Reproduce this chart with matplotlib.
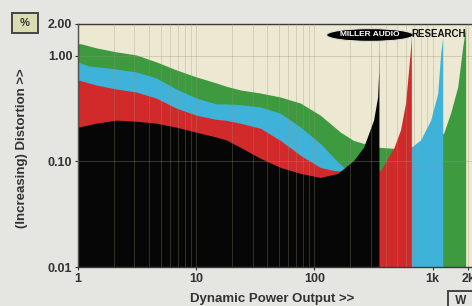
import matplotlib
matplotlib.use('Agg')
import matplotlib.pyplot as plt

# distortion curves: power (W) and THD (%)
power_green = [1, 1.06, 1.42, 2.1, 3.1, 4.58, 6.77, 10, 14.8, 17.9, 23.6, 34.9, 51.5, 76.1, 112, 166, 214, 260,
               349, 468, 791, 1239, 1421, 1629, 1795, 1867, 1900]
thd_green = [1.30, 1.30, 1.19, 1.09, 1.02, 0.877, 0.736, 0.631, 0.553, 0.515, 0.475, 0.444, 0.407, 0.357, 0.274,
             0.189, 0.158, 0.148, 0.136, 0.133, 0.14, 0.185, 0.29, 0.51, 1.22, 1.65, 2.0]

power_cyan = [1, 1.06, 1.24, 1.83, 3.1, 4.58, 6.77, 10, 14.8, 17.9, 23.6, 34.9, 51.5, 76.1, 112, 145, 176, 220,
              280, 362, 468, 651, 791, 961, 1102, 1170, 1216]
thd_cyan = [0.88, 0.85, 0.80, 0.765, 0.704, 0.617, 0.485, 0.398, 0.35, 0.35, 0.345, 0.327, 0.286, 0.211, 0.148,
            0.109, 0.088, 0.085, 0.082, 0.08, 0.10, 0.135, 0.16, 0.246, 0.44, 1.07, 1.5]

power_red = [1, 1.42, 2.1, 3.1, 4.58, 6.77, 10, 14.8, 17.9, 23.6, 34.9, 51.5, 76.1, 112, 145, 200, 300, 362, 440,
             468, 535, 590, 626, 651, 660]
thd_red = [0.591, 0.529, 0.485, 0.454, 0.398, 0.320, 0.274, 0.25, 0.245, 0.230, 0.206, 0.158, 0.114, 0.0877,
           0.082, 0.08, 0.08, 0.082, 0.12, 0.133, 0.20, 0.36, 0.74, 1.22, 1.6]

power_black = [1, 1.42, 2.1, 3.1, 4.58, 6.77, 10, 14.8, 17.9, 23.6, 34.9, 51.5, 76.1, 112, 157, 214, 260, 316,
               342, 349, 351]
thd_black = [0.211, 0.230, 0.246, 0.240, 0.230, 0.211, 0.189, 0.17, 0.16, 0.136, 0.107, 0.0877, 0.0769, 0.0705,
             0.0769, 0.102, 0.136, 0.246, 0.407, 0.7, 2.0]

x_ticks = [1, 10, 100, 1000, 2000]
x_labels = ['1', '10', '100', '1k', '2k']
y_ticks = [0.01, 0.1, 1, 2]
y_labels = ['0.01', '0.10', '1.00', '2.00']

series = [
    (power_green, thd_green, '#3d9a3f'),
    (power_cyan, thd_cyan, '#3fb2da'),
    (power_red, thd_red, '#d22a2a'),
    (power_black, thd_black, '#060606'),
]

plt.rcParams['font.family'] = ['Liberation Sans', 'DejaVu Sans']

fig = plt.figure(figsize=(4.72, 3.06), dpi=100, facecolor='#e5e5e1')
ax = fig.add_axes([78 / 472, 1 - 267 / 306, 1 - 78 / 472, (267 - 24) / 306])
ax.set_facecolor('#ece8d1')
ax.set_xscale('log')
ax.set_yscale('log')
ax.set_xlim(1, 2150)
ax.set_ylim(0.01, 2)

for p, v, c in series:
    ax.fill_between(p, 0.01, v, color=c, lw=0, zorder=2)

# grid drawn over the fills, as in the picture
minor_x = [m * 10 ** d for d in range(4) for m in range(1, 10) if m * 10 ** d <= 2150]
for xv in minor_x:
    ax.axvline(xv, color='#9a9378', lw=0.7, alpha=0.3, zorder=3)
for yv in [0.1, 1]:
    ax.axhline(yv, color='#9a9378', lw=0.7, alpha=0.35, zorder=3)

ax.set_xticks(x_ticks)
ax.set_xticklabels(x_labels)
ax.set_yticks(y_ticks)
ax.set_yticklabels(y_labels)
ax.minorticks_off()
ax.tick_params(length=2, width=0.8, colors='#333333', labelsize=9, pad=2)
for lab in ax.get_xticklabels() + ax.get_yticklabels():
    lab.set_fontweight('bold')
for s in ['left', 'bottom', 'top']:
    ax.spines[s].set_color('#3a3a3a')
    ax.spines[s].set_linewidth(1.0)
ax.spines['right'].set_visible(False)

fig.text(272 / 472, 1 - 299 / 306, 'Dynamic Power Output >>', ha='center', va='center',
         fontsize=9.5, fontweight='bold', color='#333333')
fig.text(22 / 472, 1 - 148 / 306, '(Increasing) Distortion >>', ha='center', va='center',
         rotation=90, fontsize=9.5, fontweight='bold', color='#333333')

# unit boxes
fig.text(25 / 472, 1 - 23 / 306, ' % ', ha='center', va='center', fontsize=8, fontweight='bold',
         color='#333333', bbox=dict(boxstyle='square,pad=0.45', fc='#dcdcb4', ec='#444444', lw=1.4))
fig.text(452 / 472, 1 - 301 / 306, ' W ', ha='left', va='center', fontsize=8.5, fontweight='bold',
         color='#333333', bbox=dict(boxstyle='square,pad=0.35', fc='#e5e5e1', ec='#444444', lw=1.4))

# logo
fig.text(370 / 472, 1 - 35 / 306, 'MILLER AUDIO', ha='center', va='center', fontsize=6,
         fontweight='bold', color='white', zorder=5,
         bbox=dict(boxstyle='ellipse,pad=0.12', fc='black', ec='#dddddd', lw=0.8))
fig.text(411 / 472, 1 - 34 / 306, 'RESEARCH', ha='left', va='center', fontsize=7,
         fontweight='bold', color='#111111', zorder=5)

fig.savefig('out.png', dpi=100, facecolor=fig.get_facecolor())
